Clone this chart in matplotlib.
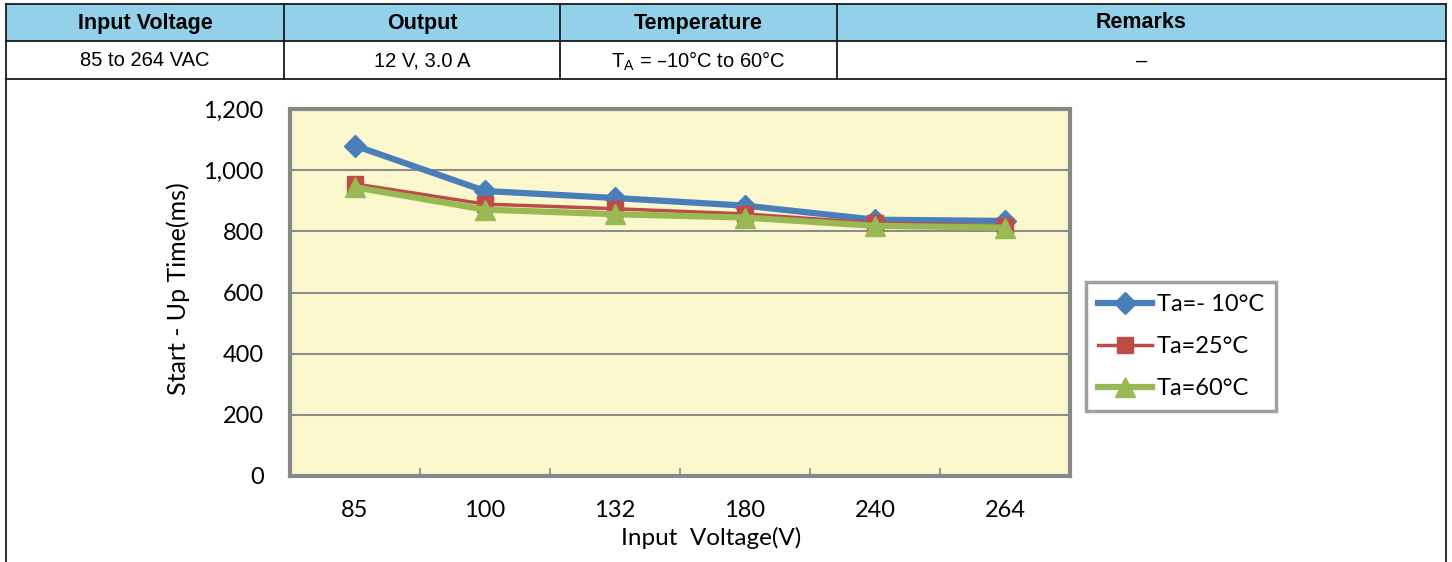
import matplotlib.pyplot as plt
from matplotlib.patches import Rectangle
from matplotlib.lines import Line2D

# table contents
headers = ["Input Voltage", "Output", "Temperature", "Remarks"]
row = ["85 to 264 VAC", "12 V, 3.0 A", "T$_\\mathregular{A}$ = \u201310\u00b0C to 60\u00b0C", "\u2013"]
col_edges = [6, 284, 560, 837, 1446]   # pixel columns of the table

# chart data
voltages = ["85", "100", "132", "180", "240", "264"]
ta_m10 = [1080, 932, 909, 884, 838, 834]
ta_25 = [955, 889, 874, 857, 827, 818]
ta_60 = [944, 871, 856, 845, 818, 812]
labels = ["Ta=- 10\u00b0C", "Ta=25\u00b0C", "Ta=60\u00b0C"]

W, H = 1452, 562
fig = plt.figure(figsize=(W / 100, H / 100), dpi=100)

def fx(px):
    return px / W

def fy(py):
    return 1 - py / H

# ---- table ----
line_kw = dict(color="#1a1a1a", lw=1.3, transform=fig.transFigure)
fig.patches.append(Rectangle((fx(6), fy(41)), fx(1446) - fx(6), fy(4) - fy(41),
                             transform=fig.transFigure, facecolor="#93d1ea",
                             edgecolor="none", zorder=0))
for yy in [4, 41, 79]:
    fig.add_artist(Line2D([fx(6), fx(1446)], [fy(yy), fy(yy)], **line_kw))
for xx in col_edges[1:-1]:
    fig.add_artist(Line2D([fx(xx), fx(xx)], [fy(4), fy(79)], **line_kw))
for xx in [col_edges[0], col_edges[-1]]:
    fig.add_artist(Line2D([fx(xx), fx(xx)], [fy(4), fy(562)], **line_kw))

tfont = ["Liberation Sans", "DejaVu Sans"]
for i, h in enumerate(headers):
    cx = (col_edges[i] + col_edges[i + 1]) / 2
    fig.text(fx(cx), fy(23), h, ha="center", va="center", fontsize=15.5,
             fontweight="bold", family=tfont)
    fig.text(fx(cx), fy(61), row[i], ha="center", va="center", fontsize=14.5,
             family=tfont)

# ---- chart ----
cfont = "Lato"
ax = fig.add_axes([fx(290), fy(476), fx(1070) - fx(290), fy(109) - fy(476)])
ax.set_facecolor("#fbf8cd")
x = range(len(voltages))

ax.plot(x, ta_m10, color="#4a7ebb", lw=4.5, marker="D", ms=11, label=labels[0], zorder=3)
ax.plot(x, ta_25, color="#be4b48", lw=2.5, marker="s", ms=12, label=labels[1], zorder=4)
ax.plot(x, ta_60, color="#98b954", lw=4.5, marker="^", ms=14, label=labels[2], zorder=5)

ax.set_xlim(-0.5, len(voltages) - 0.5)
ax.set_ylim(0, 1200)
ax.set_yticks(range(0, 1201, 200))
ax.set_yticklabels([f"{v:,}" for v in range(0, 1201, 200)], fontsize=17, family=cfont)
ax.set_xticks(list(x))
ax.set_xticklabels(voltages, fontsize=17, family=cfont)
ax.set_xticks([i + 0.5 for i in range(len(voltages) - 1)], minor=True)
ax.tick_params(axis="x", which="major", length=0, pad=17)
ax.tick_params(axis="x", which="minor", length=6, direction="in", color="#888888", width=1.2)
ax.tick_params(axis="y", length=0, pad=19)
ax.grid(axis="y", color="#8c8c8c", lw=1.5)
ax.set_axisbelow(True)
for s in ax.spines.values():
    s.set_color("#888888")
    s.set_linewidth(3)

ax.set_ylabel("Start - Up Time(ms)", fontsize=18, family=cfont)
ax.yaxis.set_label_coords(-0.128, 0.51)
ax.text(0.54, -0.17, "Input  Voltage(V)", transform=ax.transAxes, ha="center",
        va="center", fontsize=17.5, family=cfont)

leg = ax.legend(loc="upper left", bbox_to_anchor=(fx(1086), fy(282)),
                bbox_transform=fig.transFigure, fancybox=False, frameon=True,
                prop={"family": cfont, "size": 17}, handlelength=2.3,
                labelspacing=0.9, handletextpad=0.2, borderpad=0.5,
                borderaxespad=0)
leg.get_frame().set_edgecolor("#888888")
leg.get_frame().set_linewidth(2.5)

fig.savefig("out.png", dpi=100)
